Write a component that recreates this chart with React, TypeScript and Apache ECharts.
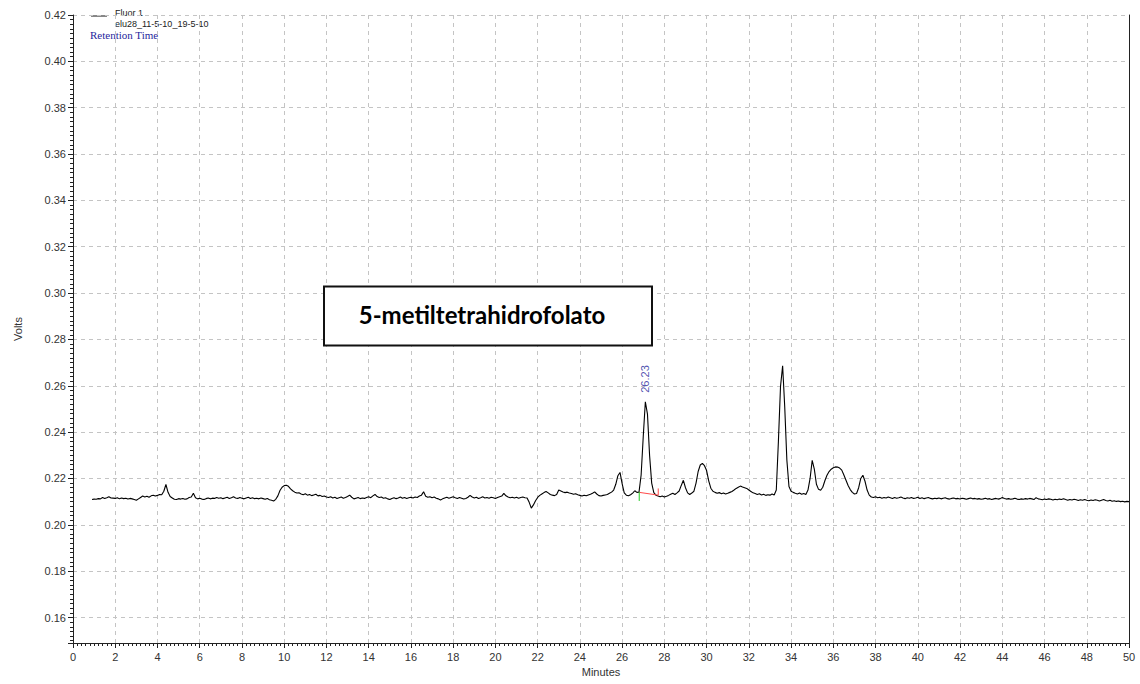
import React, { useEffect, useRef } from "react";
import * as echarts from "echarts";

// Detector sampling grid, in minutes
const startMinute = 0.9;
const stepMinute = 0.1;

// Fluor 1 signal in volts; each row holds ten samples (one minute), first row starts at 0.9 min
const signalVolts: number[] = [
  0.2109, 0.2111, 0.2110, 0.2113, 0.2112, 0.2118, 0.2114, 0.2117, 0.2121, 0.2116,
  0.2115, 0.2114, 0.2117, 0.2112, 0.2116, 0.2113, 0.2115, 0.2111, 0.2114, 0.2112,
  0.2109, 0.2106, 0.2112, 0.2118, 0.2124, 0.2120, 0.2123, 0.2119, 0.2125, 0.2128,
  0.2124, 0.2127, 0.2131, 0.2130, 0.2145, 0.2174, 0.2140, 0.2122, 0.2116, 0.2110,
  0.2109, 0.2113, 0.2111, 0.2114, 0.2110, 0.2112, 0.2118, 0.2120, 0.2136, 0.2117,
  0.2112, 0.2115, 0.2111, 0.2109, 0.2113, 0.2116, 0.2112, 0.2115, 0.2114, 0.2118,
  0.2115, 0.2117, 0.2113, 0.2116, 0.2119, 0.2114, 0.2117, 0.2121, 0.2116, 0.2114,
  0.2118, 0.2115, 0.2112, 0.2116, 0.2119, 0.2114, 0.2117, 0.2113, 0.2115, 0.2112,
  0.2116, 0.2113, 0.2110, 0.2114, 0.2108, 0.2106, 0.2103, 0.2110, 0.2125, 0.2148,
  0.2162, 0.2169, 0.2171, 0.2166, 0.2155, 0.2147, 0.2141, 0.2137, 0.2138, 0.2133,
  0.2130, 0.2134, 0.2128, 0.2131, 0.2126, 0.2129, 0.2132, 0.2125, 0.2127, 0.2122,
  0.2124, 0.2120, 0.2118, 0.2121, 0.2116, 0.2119, 0.2114, 0.2117, 0.2120, 0.2115,
  0.2118, 0.2122, 0.2128, 0.2119, 0.2112, 0.2115, 0.2118, 0.2113, 0.2116, 0.2114,
  0.2118, 0.2121, 0.2117, 0.2125, 0.2131, 0.2122, 0.2118, 0.2120, 0.2115, 0.2117,
  0.2112, 0.2109, 0.2114, 0.2117, 0.2113, 0.2116, 0.2120, 0.2115, 0.2118, 0.2114,
  0.2117, 0.2119, 0.2116, 0.2120, 0.2118, 0.2124, 0.2128, 0.2143, 0.2123, 0.2119,
  0.2121, 0.2117, 0.2120, 0.2115, 0.2112, 0.2107, 0.2112, 0.2116, 0.2119, 0.2115,
  0.2118, 0.2121, 0.2117, 0.2114, 0.2118, 0.2115, 0.2111, 0.2114, 0.2119, 0.2127,
  0.2120, 0.2116, 0.2119, 0.2114, 0.2117, 0.2121, 0.2116, 0.2118, 0.2115, 0.2119,
  0.2117, 0.2114, 0.2118, 0.2121, 0.2124, 0.2136, 0.2125, 0.2120, 0.2117, 0.2119,
  0.2116, 0.2119, 0.2115, 0.2118, 0.2120, 0.2117, 0.2116, 0.2097, 0.2072, 0.2086,
  0.2104, 0.2118, 0.2127, 0.2133, 0.2139, 0.2144, 0.2138, 0.2131, 0.2128, 0.2126,
  0.2131, 0.2150, 0.2146, 0.2142, 0.2139, 0.2141, 0.2137, 0.2135, 0.2132, 0.2134,
  0.2130, 0.2127, 0.2124, 0.2128, 0.2125, 0.2129, 0.2132, 0.2136, 0.2142, 0.2133,
  0.2126, 0.2124, 0.2127, 0.2129, 0.2131, 0.2136, 0.2141, 0.2150, 0.2175, 0.2212,
  0.2226, 0.2178, 0.2138, 0.2128, 0.2125, 0.2130, 0.2137, 0.2147, 0.2140, 0.2141,
  0.2215, 0.2380, 0.2531, 0.2478, 0.2300, 0.2180, 0.2139, 0.2128, 0.2124, 0.2121,
  0.2124, 0.2120, 0.2123, 0.2127, 0.2132, 0.2136, 0.2131, 0.2138, 0.2146, 0.2170,
  0.2192, 0.2160, 0.2138, 0.2131, 0.2137, 0.2145, 0.2180, 0.2230, 0.2258, 0.2265,
  0.2255, 0.2234, 0.2190, 0.2158, 0.2145, 0.2140, 0.2136, 0.2139, 0.2134, 0.2137,
  0.2133, 0.2136, 0.2140, 0.2144, 0.2150, 0.2157, 0.2162, 0.2167, 0.2163, 0.2160,
  0.2157, 0.2150, 0.2144, 0.2138, 0.2135, 0.2131, 0.2134, 0.2129, 0.2132, 0.2127,
  0.2130, 0.2128, 0.2133, 0.2129, 0.2150, 0.2361, 0.2598, 0.2686, 0.2507, 0.2280,
  0.2165, 0.2145, 0.2140, 0.2136, 0.2133, 0.2137, 0.2132, 0.2135, 0.2131, 0.2150,
  0.2200, 0.2278, 0.2240, 0.2175, 0.2153, 0.2149, 0.2162, 0.2190, 0.2214, 0.2230,
  0.2240, 0.2246, 0.2250, 0.2249, 0.2245, 0.2236, 0.2215, 0.2192, 0.2170, 0.2152,
  0.2140, 0.2133, 0.2135, 0.2160, 0.2200, 0.2214, 0.2188, 0.2150, 0.2128, 0.2120,
  0.2118, 0.2121, 0.2117, 0.2119, 0.2115, 0.2118, 0.2116, 0.2120, 0.2117, 0.2114,
  0.2118, 0.2115, 0.2117, 0.2120, 0.2116, 0.2113, 0.2117, 0.2115, 0.2118, 0.2114,
  0.2116, 0.2119, 0.2114, 0.2117, 0.2113, 0.2116, 0.2118, 0.2114, 0.2112, 0.2115,
  0.2113, 0.2116, 0.2112, 0.2115, 0.2117, 0.2113, 0.2111, 0.2114, 0.2116, 0.2112,
  0.2114, 0.2111, 0.2115, 0.2113, 0.2110, 0.2113, 0.2116, 0.2112, 0.2114, 0.2111,
  0.2113, 0.2110, 0.2112, 0.2115, 0.2111, 0.2113, 0.2109, 0.2112, 0.2114, 0.2111,
  0.2113, 0.2118, 0.2114, 0.2111, 0.2113, 0.2110, 0.2112, 0.2115, 0.2111, 0.2109,
  0.2112, 0.2110, 0.2113, 0.2111, 0.2114, 0.2112, 0.2109, 0.2117, 0.2112, 0.2110,
  0.2108, 0.2111, 0.2109, 0.2112, 0.2110, 0.2107, 0.2110, 0.2108, 0.2111, 0.2109,
  0.2113, 0.2109, 0.2106, 0.2109, 0.2107, 0.2110, 0.2108, 0.2105, 0.2108, 0.2106,
  0.2109, 0.2106, 0.2104, 0.2107, 0.2105, 0.2108, 0.2106, 0.2103, 0.2106, 0.2109,
  0.2105, 0.2103, 0.2106, 0.2102, 0.2104, 0.2101, 0.2103, 0.2100, 0.2102, 0.2099,
  0.2101, 0.2100,
];

// Axis ranges
const minutesRange = [0, 50];
const voltsRange = [0.149, 0.42];
const voltsStep = 0.02;

// Integrated peak: sample time of its apex and the retention time reported for it
const peakApexMinute = 27.1;
const peakRetentionLabel = "26.23";

// Integration baseline drawn under that peak, [minutes, volts]
const integrationBaseline = [
  [26.81, 0.214],
  [27.71, 0.2128],
];
const integrationStartTick = [
  [26.81, 0.2142],
  [26.81, 0.2103],
];
const integrationEndTick = [
  [27.71, 0.2157],
  [27.71, 0.2128],
];

const legendLines = ["Fluor 1", "elu28_11-5-10_19-5-10"];
const legendNote = "Retention Time";
const compoundName = "5-metiltetrahidrofolato";

const round1 = (v: number) => Math.round(v * 10) / 10;

export default function App() {
  const ref = useRef<HTMLDivElement>(null);

  useEffect(() => {
    if (!ref.current) return;
    const chart = echarts.init(ref.current, undefined, { renderer: "svg" });

    const trace = signalVolts.map((v, i) => [round1(startMinute + i * stepMinute), v]);
    const apexIndex = Math.round((peakApexMinute - startMinute) / stepMinute);
    const apex = trace[apexIndex];

    const axisFont = {
      fontFamily: "'Liberation Sans', Arial, sans-serif",
      fontSize: 11,
      color: "#333",
    };
    const gridLine = {
      show: true,
      lineStyle: { color: "#c4c4c4", type: [4, 4] as any, width: 1 },
    };
    const blue = "#26269c";

    chart.setOption({
      animation: false,
      backgroundColor: "#fff",
      grid: { left: 73, right: 11, top: 15, bottom: 41 },
      xAxis: {
        type: "value",
        min: minutesRange[0],
        max: minutesRange[1],
        interval: 2,
        name: "Minutes",
        nameLocation: "middle",
        nameGap: 23,
        nameTextStyle: axisFont,
        axisLine: { show: true, lineStyle: { color: "#222", width: 1 } },
        axisTick: { show: true, length: 5, lineStyle: { color: "#222" } },
        minorTick: { show: true, splitNumber: 10, length: 3, lineStyle: { color: "#222" } },
        axisLabel: { ...axisFont, margin: 8 },
        splitLine: gridLine,
      },
      yAxis: [
        {
          type: "value",
          min: voltsRange[0],
          max: voltsRange[1],
          splitNumber: 14,
          minInterval: voltsStep,
          maxInterval: voltsStep,
          name: "Volts",
          nameLocation: "middle",
          nameRotate: 90,
          nameGap: 50,
          nameTextStyle: axisFont,
          axisLine: { show: true, lineStyle: { color: "#222", width: 1 } },
          axisTick: { show: true, length: 5, lineStyle: { color: "#222" } },
          axisLabel: {
            ...axisFont,
            margin: 7,
            formatter: (v: number) => {
              const k = v / voltsStep;
              return Math.abs(k - Math.round(k)) < 1e-6 ? v.toFixed(2) : "";
            },
          },
          splitLine: gridLine,
        },
        {
          // minor ticks every 0.002 V
          type: "value",
          position: "left",
          min: voltsRange[0],
          max: voltsRange[1],
          splitNumber: 136,
          minInterval: 0.002,
          maxInterval: 0.002,
          axisLine: { show: false },
          axisTick: { show: true, length: 3, lineStyle: { color: "#222" } },
          axisLabel: { show: false },
          splitLine: { show: false },
        },
        {
          // right frame edge
          type: "value",
          position: "right",
          min: voltsRange[0],
          max: voltsRange[1],
          axisLine: { show: true, lineStyle: { color: "#222", width: 1 } },
          axisTick: { show: false },
          axisLabel: { show: false },
          splitLine: { show: false },
        },
      ],
      series: [
        {
          type: "line",
          name: legendLines[0],
          data: trace,
          symbol: "none",
          silent: true,
          lineStyle: { color: "#000", width: 1.1 },
          z: 3,
        },
        {
          type: "line",
          data: integrationBaseline,
          symbol: "none",
          silent: true,
          lineStyle: { color: "#ff4a4a", width: 1 },
          z: 4,
        },
        {
          type: "line",
          data: integrationStartTick,
          symbol: "none",
          silent: true,
          lineStyle: { color: "#22cc22", width: 1 },
          z: 4,
        },
        {
          type: "line",
          data: integrationEndTick,
          symbol: "none",
          silent: true,
          lineStyle: { color: "#ff4a4a", width: 1 },
          z: 4,
        },
        {
          type: "scatter",
          data: [apex],
          symbol: "circle",
          symbolSize: 2,
          silent: true,
          itemStyle: { color: "rgba(0,0,0,0)" },
          label: {
            show: true,
            formatter: peakRetentionLabel,
            position: "top",
            distance: 8,
            rotate: 90,
            align: "left",
            verticalAlign: "middle",
            color: blue,
            fontFamily: "'Liberation Sans', Arial, sans-serif",
            fontSize: 11,
          },
          z: 5,
        },
      ],
      graphic: [
        {
          type: "line",
          shape: { x1: 91, y1: 16, x2: 107, y2: 16 },
          style: { stroke: "#111", lineWidth: 1 },
        },
        {
          type: "text",
          x: 115,
          y: 13,
          style: {
            text: legendLines[0],
            fill: "#222",
            font: "9px 'Liberation Sans', Arial, sans-serif",
            verticalAlign: "middle",
          },
        },
        {
          type: "text",
          x: 115,
          y: 23.5,
          style: {
            text: legendLines[1],
            fill: "#222",
            font: "9px 'Liberation Sans', Arial, sans-serif",
            verticalAlign: "middle",
          },
        },
        {
          type: "text",
          x: 90,
          y: 35,
          style: {
            text: legendNote,
            fill: blue,
            font: "11px 'Liberation Serif', 'Times New Roman', serif",
            verticalAlign: "middle",
          },
        },
        {
          type: "rect",
          z: 10,
          shape: { x: 324, y: 286.5, width: 328, height: 59 },
          style: { fill: "#fff", stroke: "#111", lineWidth: 2 },
        },
        {
          type: "text",
          z: 11,
          x: 482,
          y: 314,
          style: {
            text: compoundName,
            fill: "#000",
            font: "bold 24px Lato, 'Open Sans', sans-serif",
            align: "center",
            verticalAlign: "middle",
          },
        },
      ],
    });

    return () => chart.dispose();
  }, []);

  return (
    <div
      ref={ref}
      style={{ position: "absolute", left: 0, top: 0, width: 1140, height: 684 }}
    />
  );
}
